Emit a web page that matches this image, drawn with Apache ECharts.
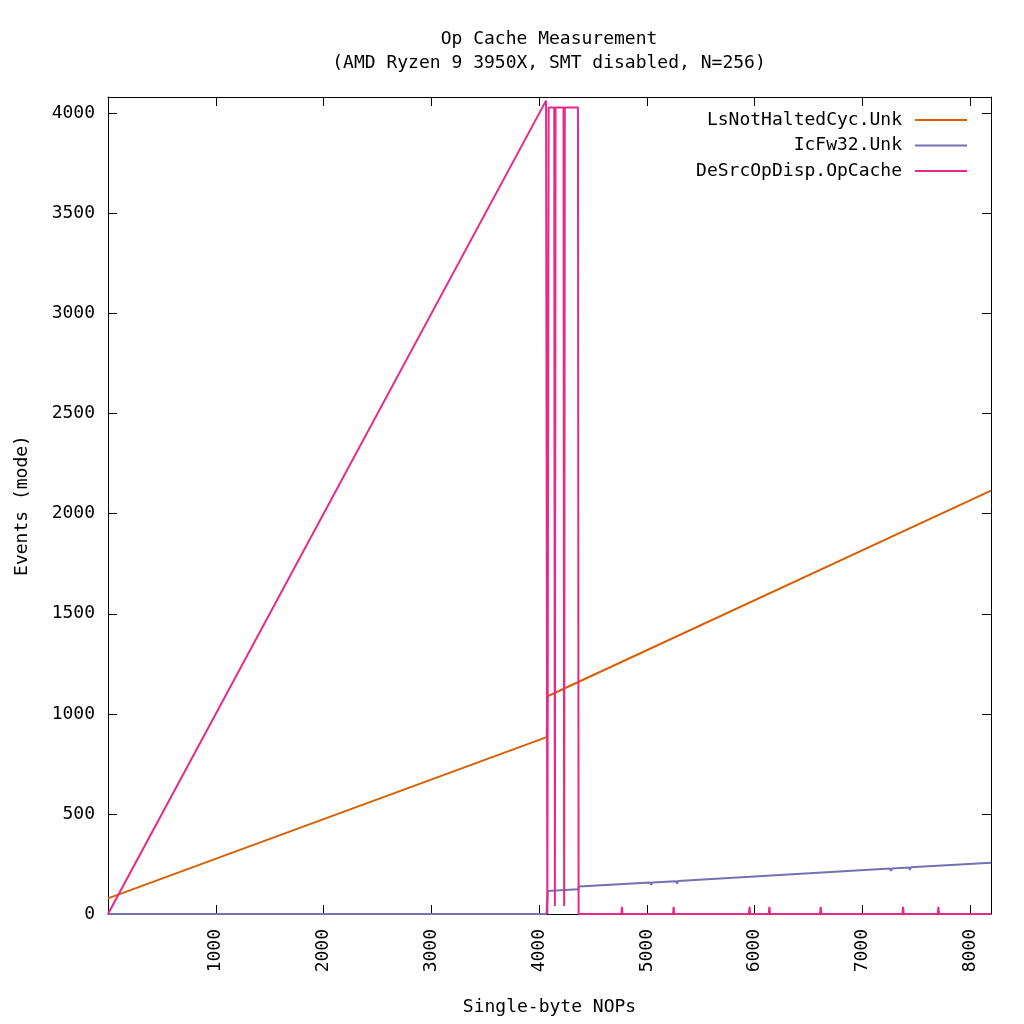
<!DOCTYPE html>
<html>
<head>
<meta charset="utf-8">
<script src="https://cdn.jsdelivr.net/npm/echarts@6/dist/echarts.min.js"></script>
<style>
html,body{margin:0;padding:0;background:#fff;}
#chart{width:1024px;height:1024px;}
</style>
</head>
<body>
<div id="chart"></div>
<script>
const titleLines = ['Op Cache Measurement', '(AMD Ryzen 9 3950X, SMT disabled, N=256)'];
const xAxisName = 'Single-byte NOPs';
const yAxisName = 'Events (mode)';
const seriesNames = ['LsNotHaltedCyc.Unk', 'IcFw32.Unk', 'DeSrcOpDisp.OpCache'];
const xTickValues = [1000, 2000, 3000, 4000, 5000, 6000, 7000, 8000];
const yTickValues = [0, 500, 1000, 1500, 2000, 2500, 3000, 3500, 4000];

const cyclesX = [0, 4070, 4078, 8192];
const cyclesY = [78, 884, 1088, 2115];

const fw32X = [0, 4068, 4080, 4360, 4368, 5032, 5040, 5048, 5272, 5280, 5288, 7256, 7264, 7272, 7432, 7440, 7448, 8192];
const fw32Y = [0, 0, 115, 124, 137, 157, 145, 158, 164, 152, 165, 227, 215, 227, 232, 220, 233, 256];

const opCacheX = [0, 4064, 4076, 4088, 4140, 4146, 4152, 4226, 4232, 4238, 4360, 4366,
  4762, 4768, 4774, 5242, 5248, 5254, 5946, 5952, 5958, 6130, 6136, 6142,
  6606, 6612, 6618, 7370, 7376, 7382, 7698, 7704, 7710, 8192];
const opCacheY = [0, 4064, 0, 4030, 4030, 40, 4030, 4030, 40, 4030, 4030, 0,
  0, 36, 0, 0, 36, 0, 0, 36, 0, 0, 36, 0,
  0, 36, 0, 0, 36, 0, 0, 36, 0, 0];

const colors = ['#d95f02', '#7570b3', '#e7298a'];

function zip(xs, ys) { return xs.map((x, i) => [x, ys[i]]); }

const FONT = 'DejaVu Sans Mono';
const X_MIN = 0, X_MAX = 8192, Y_MIN = 0, Y_MAX = 4082;

const chart = echarts.init(document.getElementById('chart'), null, {renderer: 'canvas'});

const baseAxisLine = {show: true, onZero: false, lineStyle: {color: '#000', width: 1}};
const baseTick = {show: true, inside: true, length: 9, lineStyle: {color: '#000', width: 1}};

chart.setOption({
  animation: false,
  backgroundColor: '#fff',
  color: colors,
  title: {
    text: titleLines.join('\n'),
    left: 549,
    top: 27,
    padding: 0,
    textAlign: 'center',
    textStyle: {fontFamily: FONT, fontSize: 18, fontWeight: 'normal', color: '#000', lineHeight: 24}
  },
  legend: {
    orient: 'vertical',
    right: 52,
    top: 105,
    align: 'right',
    icon: 'rect',
    itemWidth: 52,
    itemHeight: 2,
    itemGap: 5.5,
    data: seriesNames,
    textStyle: {fontFamily: FONT, fontSize: 18, color: '#000', lineHeight: 20, padding: [0, 8, 0, 0]}
  },
  grid: {left: 108, right: 33, top: 97, bottom: 110, containLabel: false},
  xAxis: [{
    type: 'value', min: X_MIN, max: X_MAX, interval: 1000, position: 'bottom',
    name: xAxisName, nameLocation: 'middle', nameGap: 84,
    nameTextStyle: {fontFamily: FONT, fontSize: 18, color: '#000'},
    axisLine: baseAxisLine, axisTick: baseTick,
    axisLabel: {
      rotate: 90, margin: 15, fontFamily: FONT, fontSize: 18, color: '#000',
      formatter: v => xTickValues.includes(v) ? String(v) : ''
    },
    splitLine: {show: false}
  }, {
    type: 'value', min: X_MIN, max: X_MAX, interval: 1000, position: 'top',
    axisLine: baseAxisLine, axisTick: baseTick, axisLabel: {show: false}, splitLine: {show: false}
  }],
  yAxis: [{
    type: 'value', min: Y_MIN, max: Y_MAX, interval: 500, position: 'left',
    name: yAxisName, nameLocation: 'middle', nameGap: 77, nameRotate: 90,
    nameTextStyle: {fontFamily: FONT, fontSize: 18, color: '#000'},
    axisLine: baseAxisLine, axisTick: baseTick,
    axisLabel: {
      margin: 13, fontFamily: FONT, fontSize: 18, color: '#000',
      formatter: v => yTickValues.includes(v) ? String(v) : ''
    },
    splitLine: {show: false}
  }, {
    type: 'value', min: Y_MIN, max: Y_MAX, interval: 500, position: 'right',
    axisLine: baseAxisLine, axisTick: baseTick, axisLabel: {show: false}, splitLine: {show: false}
  }],
  series: [
    {name: seriesNames[0], type: 'line', data: zip(cyclesX, cyclesY), showSymbol: false, symbol: 'none',
     lineStyle: {width: 2, color: colors[0]}, itemStyle: {color: colors[0]}, z: 2},
    {name: seriesNames[1], type: 'line', data: zip(fw32X, fw32Y), showSymbol: false, symbol: 'none',
     lineStyle: {width: 2, color: colors[1]}, itemStyle: {color: colors[1]}, z: 3},
    {name: seriesNames[2], type: 'line', data: zip(opCacheX, opCacheY), showSymbol: false, symbol: 'none',
     lineStyle: {width: 2, color: colors[2]}, itemStyle: {color: colors[2]}, z: 4}
  ]
});
</script>
</body>
</html>
